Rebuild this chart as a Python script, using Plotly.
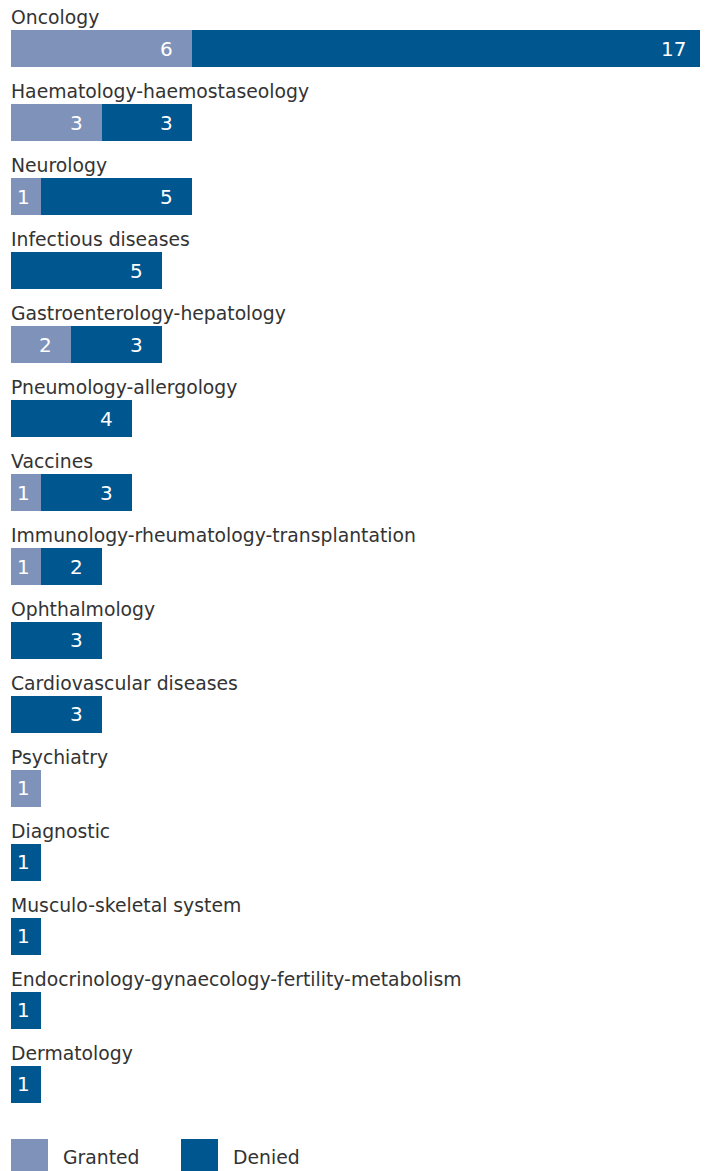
import plotly.graph_objects as go

categories = [
    "Oncology", "Haematology-haemostaseology", "Neurology", "Infectious diseases",
    "Gastroenterology-hepatology", "Pneumology-allergology", "Vaccines",
    "Immunology-rheumatology-transplantation", "Ophthalmology",
    "Cardiovascular diseases", "Psychiatry", "Diagnostic", "Musculo-skeletal system",
    "Endocrinology-gynaecology-fertility-metabolism", "Dermatology",
]
granted = [6, 3, 1, 0, 2, 0, 1, 1, 0, 0, 1, 0, 0, 0, 0]
denied = [17, 3, 5, 5, 3, 4, 3, 2, 3, 3, 0, 1, 1, 1, 1]
series_names = ["Granted", "Denied"]
colors = ["#7f93ba", "#00578f"]

FONT = "DejaVu Sans"
TEXT = "#333333"
pos = list(range(len(categories)))

# figure geometry (page body adds an 8px offset)
W, H = 700, 1163
ML, MR, MT, MB = 3, 0, 4, 50
PW, PH = W - ML - MR, H - MT - MB

fig = go.Figure()
fig.add_trace(go.Bar(y=pos, x=granted, orientation="h", name=series_names[0],
                     marker=dict(color=colors[0], line=dict(width=0)), width=0.5,
                     hoverinfo="skip"))
fig.add_trace(go.Bar(y=pos, x=denied, orientation="h", name=series_names[1],
                     marker=dict(color=colors[1], line=dict(width=0)), width=0.5,
                     hoverinfo="skip"))


def value_label(xend, val, i):
    return dict(x=xend, y=i, xref="x", yref="y", text=str(val), showarrow=False,
                xanchor="right", yanchor="middle", xshift=(-9 if val == 1 else -17),
                font=dict(family=FONT, size=20, color="white"))


annotations = []
for i, cat in enumerate(categories):
    annotations.append(dict(x=0, y=i, xref="x", yref="y", text=cat, showarrow=False,
                            xanchor="left", yanchor="middle", yshift=31, xshift=-2,
                            font=dict(family=FONT, size=18.8, color=TEXT)))
    if granted[i] > 0:
        annotations.append(value_label(granted[i], granted[i], i))
    if denied[i] > 0:
        annotations.append(value_label(granted[i] + denied[i], denied[i], i))

# custom legend (paper coordinates)
shapes = []
legend_sq_x = [0, 170]
for k, name in enumerate(series_names):
    shapes.append(dict(type="rect", xref="paper", yref="paper",
                       x0=legend_sq_x[k] / PW, x1=(legend_sq_x[k] + 37) / PW,
                       y0=-50 / PH, y1=-18 / PH,
                       line=dict(width=0), fillcolor=colors[k]))
    annotations.append(dict(x=(legend_sq_x[k] + 50) / PW, y=-36 / PH,
                            xref="paper", yref="paper", text=name, showarrow=False,
                            xanchor="left", yanchor="middle",
                            font=dict(family=FONT, size=18.8, color=TEXT)))

fig.update_layout(
    width=W, height=H,
    margin=dict(l=ML, r=MR, t=MT, b=MB, pad=0),
    barmode="stack", bargap=0,
    showlegend=False,
    plot_bgcolor="white", paper_bgcolor="white",
    xaxis=dict(range=[0, 23.1], visible=False, fixedrange=True),
    yaxis=dict(range=[14.5, -0.5], visible=False, fixedrange=True),
    annotations=annotations, shapes=shapes,
)

fig.write_html("out.html")
